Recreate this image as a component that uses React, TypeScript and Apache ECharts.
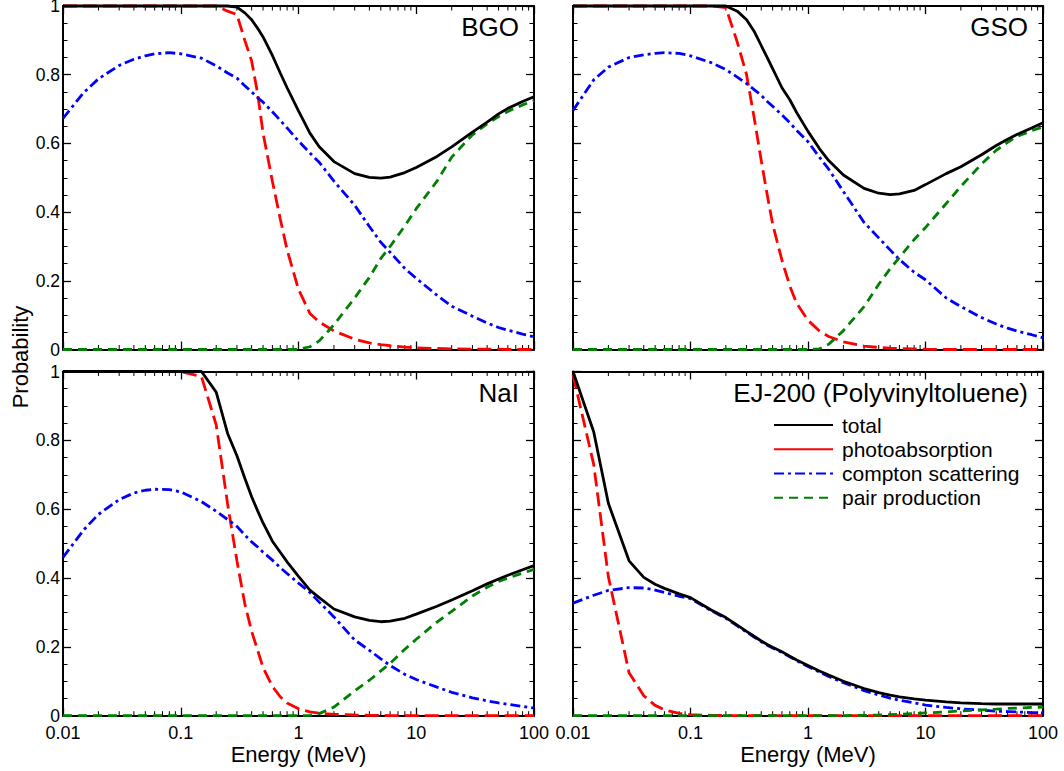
import React, { useEffect, useRef } from "react";
import * as echarts from "echarts";

// ---------------- data ----------------
const ENERGY = [0.01, 0.015, 0.02, 0.03, 0.04, 0.05, 0.06, 0.08, 0.1, 0.15, 0.2, 0.25, 0.3, 0.35, 0.4, 0.45, 0.5, 0.6, 0.7, 0.8, 1, 1.25, 1.5, 2, 3, 4, 5, 6, 8, 10, 15, 20, 30, 40, 50, 60, 80, 100];

const BGO_TOTAL = [1, 1, 1, 1, 1, 1, 1, 1, 1, 1, 1, 1.0, 0.997, 0.98, 0.96, 0.935, 0.91, 0.856, 0.805, 0.762, 0.695, 0.63, 0.59, 0.547, 0.512, 0.501, 0.499, 0.502, 0.515, 0.53, 0.562, 0.59, 0.633, 0.662, 0.686, 0.702, 0.722, 0.736];
const BGO_PHOTO = [1, 1, 1, 1, 1, 1, 1, 1, 1, 1, 1, 0.985, 0.975, 0.9, 0.84, 0.745, 0.63, 0.49, 0.38, 0.29, 0.175, 0.105, 0.08, 0.054, 0.03, 0.019, 0.014, 0.011, 0.007, 0.005, 0.003, 0.002, 0.001, 0.001, 0.001, 0, 0, 0];
const BGO_COMPTON = [0.673, 0.748, 0.788, 0.827, 0.845, 0.855, 0.861, 0.864, 0.861, 0.848, 0.826, 0.805, 0.79, 0.768, 0.75, 0.733, 0.72, 0.692, 0.667, 0.645, 0.607, 0.572, 0.545, 0.49, 0.42, 0.358, 0.312, 0.283, 0.236, 0.207, 0.158, 0.126, 0.097, 0.077, 0.064, 0.056, 0.045, 0.037];
const BGO_PAIR = [0, 0, 0, 0, 0, 0, 0, 0, 0, 0, 0, 0, 0, 0, 0, 0, 0, 0, 0, 0, 0, 0.008, 0.025, 0.072, 0.15, 0.21, 0.265, 0.3, 0.36, 0.41, 0.49, 0.56, 0.625, 0.657, 0.678, 0.693, 0.712, 0.725];

const GSO_TOTAL = [1, 1, 1, 1, 1, 1, 1, 1, 1, 1, 1, 0.985, 0.96, 0.925, 0.885, 0.85, 0.818, 0.762, 0.727, 0.69, 0.635, 0.585, 0.55, 0.508, 0.469, 0.455, 0.451, 0.453, 0.463, 0.48, 0.512, 0.532, 0.567, 0.594, 0.612, 0.626, 0.645, 0.66];
const GSO_PHOTO = [1, 1, 1, 1, 1, 1, 1, 1, 1, 1, 0.995, 0.895, 0.8, 0.67, 0.55, 0.45, 0.365, 0.26, 0.185, 0.135, 0.085, 0.054, 0.038, 0.022, 0.01, 0.006, 0.004, 0.003, 0.002, 0.001, 0, 0, 0, 0, 0, 0, 0, 0];
const GSO_COMPTON = [0.696, 0.785, 0.822, 0.85, 0.858, 0.862, 0.864, 0.862, 0.855, 0.835, 0.815, 0.793, 0.774, 0.756, 0.74, 0.722, 0.708, 0.683, 0.66, 0.638, 0.605, 0.56, 0.525, 0.46, 0.37, 0.325, 0.29, 0.262, 0.225, 0.203, 0.15, 0.125, 0.093, 0.074, 0.062, 0.054, 0.043, 0.034];
const GSO_PAIR = [0, 0, 0, 0, 0, 0, 0, 0, 0, 0, 0, 0, 0, 0, 0, 0, 0, 0, 0, 0, 0, 0.002, 0.015, 0.055, 0.125, 0.19, 0.235, 0.268, 0.32, 0.355, 0.425, 0.475, 0.54, 0.58, 0.603, 0.62, 0.637, 0.648];

const NAI_TOTAL = [1, 1, 1, 1, 1, 1, 1, 1, 1, 1, 0.94, 0.82, 0.755, 0.69, 0.636, 0.595, 0.56, 0.507, 0.475, 0.447, 0.405, 0.365, 0.343, 0.31, 0.287, 0.277, 0.273, 0.275, 0.283, 0.295, 0.318, 0.336, 0.363, 0.383, 0.397, 0.408, 0.424, 0.436];
const NAI_PHOTO = [1, 1, 1, 1, 1, 1, 1, 1, 1, 0.985, 0.845, 0.615, 0.45, 0.325, 0.245, 0.19, 0.14, 0.085, 0.055, 0.037, 0.02, 0.011, 0.007, 0.004, 0.002, 0.001, 0.001, 0, 0, 0, 0, 0, 0, 0, 0, 0, 0, 0];
const NAI_COMPTON = [0.46, 0.54, 0.585, 0.628, 0.647, 0.655, 0.658, 0.657, 0.65, 0.622, 0.594, 0.57, 0.55, 0.525, 0.505, 0.49, 0.475, 0.452, 0.43, 0.413, 0.385, 0.358, 0.33, 0.287, 0.22, 0.19, 0.165, 0.146, 0.12, 0.105, 0.083, 0.068, 0.052, 0.043, 0.037, 0.033, 0.027, 0.022];
const NAI_PAIR = [0, 0, 0, 0, 0, 0, 0, 0, 0, 0, 0, 0, 0, 0, 0, 0, 0, 0, 0, 0, 0, 0.001, 0.006, 0.025, 0.072, 0.103, 0.13, 0.152, 0.193, 0.222, 0.272, 0.303, 0.348, 0.373, 0.39, 0.4, 0.414, 0.425];

const EJ_TOTAL = [1.0, 0.825, 0.617, 0.45, 0.402, 0.382, 0.37, 0.354, 0.343, 0.307, 0.285, 0.263, 0.245, 0.23, 0.217, 0.207, 0.199, 0.186, 0.173, 0.162, 0.146, 0.13, 0.118, 0.1, 0.079, 0.067, 0.06, 0.055, 0.049, 0.045, 0.04, 0.037, 0.035, 0.034, 0.034, 0.034, 0.034, 0.034];
const EJ_PHOTO = [0.99, 0.73, 0.404, 0.125, 0.058, 0.03, 0.017, 0.007, 0.003, 0.001, 0.0005, 0, 0, 0, 0, 0, 0, 0, 0, 0, 0, 0, 0, 0, 0, 0, 0, 0, 0, 0, 0, 0, 0, 0, 0, 0, 0, 0];
const EJ_COMPTON = [0.327, 0.35, 0.364, 0.372, 0.371, 0.365, 0.358, 0.347, 0.34, 0.305, 0.283, 0.261, 0.243, 0.228, 0.215, 0.205, 0.197, 0.184, 0.171, 0.16, 0.143, 0.127, 0.114, 0.096, 0.073, 0.06, 0.051, 0.045, 0.037, 0.031, 0.024, 0.02, 0.016, 0.013, 0.012, 0.011, 0.009, 0.008];
const EJ_PAIR = [0, 0, 0, 0, 0, 0, 0, 0, 0, 0, 0, 0, 0, 0, 0, 0, 0, 0, 0, 0, 0, 0, 0, 0.0003, 0.001, 0.002, 0.003, 0.004, 0.006, 0.008, 0.011, 0.014, 0.017, 0.019, 0.021, 0.022, 0.024, 0.025];

const X_TICKS = [0.01, 0.1, 1, 10, 100];
const X_TICK_LABELS = ["0.01", "0.1", "1", "10", "100"];
const X_MINOR_TICKS = [0.02, 0.03, 0.04, 0.05, 0.06, 0.07, 0.08, 0.09, 0.2, 0.3, 0.4, 0.5, 0.6, 0.7, 0.8, 0.9, 2, 3, 4, 5, 6, 7, 8, 9, 20, 30, 40, 50, 60, 70, 80, 90];

const SERIES_NAMES = ["total", "photoabsorption", "compton scattering", "pair production"];
const PANEL_TITLES = ["BGO", "GSO", "NaI", "EJ-200 (Polyvinyltoluene)"];
const X_NAME = "Energy (MeV)";
const Y_NAME = "Probability";

const PANELS = [
  { title: PANEL_TITLES[0], values: [BGO_TOTAL, BGO_PHOTO, BGO_COMPTON, BGO_PAIR] },
  { title: PANEL_TITLES[1], values: [GSO_TOTAL, GSO_PHOTO, GSO_COMPTON, GSO_PAIR] },
  { title: PANEL_TITLES[2], values: [NAI_TOTAL, NAI_PHOTO, NAI_COMPTON, NAI_PAIR] },
  { title: PANEL_TITLES[3], values: [EJ_TOTAL, EJ_PHOTO, EJ_COMPTON, EJ_PAIR] },
];

// ---------------- layout & style ----------------
const FONT = "'Liberation Sans', Arial, Helvetica, sans-serif";
const GRIDS = [
  { left: 63, top: 6, width: 471, height: 343.5 },
  { left: 573, top: 6, width: 470, height: 343.5 },
  { left: 63, top: 371.5, width: 471, height: 344.2 },
  { left: 573, top: 371.5, width: 470, height: 344.2 },
];
const TITLE_POS = [
  { x: 519, y: 27 },
  { x: 1028, y: 27 },
  { x: 519, y: 393 },
  { x: 1028, y: 393 },
];
const LINE_STYLES = [
  { color: "#000000", width: 2.8, type: "solid" as any },
  { color: "#ff0000", width: 2.8, type: [14, 6] as any },
  { color: "#0000ff", width: 2.8, type: [10, 4, 3, 4] as any },
  { color: "#008000", width: 2.8, type: [9, 6] as any },
];
// draw order: photo, compton, pair, total (total on top)
const DRAW_ORDER = [1, 2, 3, 0];

function xLabel(v: number): string {
  const i = X_TICKS.findIndex((t) => Math.abs(Math.log10(t) - Math.log10(v)) < 1e-6);
  return i >= 0 ? X_TICK_LABELS[i] : "";
}

function buildOption(): any {
  const grid: any[] = [];
  const xAxis: any[] = [];
  const yAxis: any[] = [];
  const series: any[] = [];
  const graphic: any[] = [];

  const axisLine = { show: true, onZero: false, lineStyle: { color: "#000", width: 2 } };
  const axisTick = { show: true, inside: true, length: 8, lineStyle: { color: "#000", width: 1.3 } };

  PANELS.forEach((panel, i) => {
    const g = GRIDS[i];
    grid.push({ ...g, containLabel: false, outerBoundsMode: "none" });
    const isBottom = i >= 2;
    const isLeft = i % 2 === 0;
    const xBase = {
      type: "log",
      logBase: 10,
      gridIndex: i,
      min: 0.01,
      max: 100,
      axisLine,
      axisTick,
      splitLine: { show: false },
      minorTick: { show: false },
      minorSplitLine: { show: false },
    };
    xAxis.push({
      ...xBase,
      position: "bottom",
      axisLabel: {
        show: isBottom,
        formatter: xLabel,
        fontSize: 18,
        color: "#000",
        margin: 9,
        lineHeight: 16,
        fontFamily: FONT,
        showMinLabel: true,
        showMaxLabel: true,
      },
      name: isBottom ? X_NAME : "",
      nameLocation: "middle",
      nameGap: 28,
      nameTextStyle: { fontSize: 22, color: "#000", fontFamily: FONT },
    });
    xAxis.push({ ...xBase, position: "top", axisLabel: { show: false } });
    const yBase = {
      type: "value",
      gridIndex: i,
      min: 0,
      max: 1,
      interval: 0.2,
      axisLine,
      axisTick,
      minorTick: { show: true, splitNumber: 4, length: 4.5, lineStyle: { color: "#000", width: 1 } },
      splitLine: { show: false },
      minorSplitLine: { show: false },
    };
    yAxis.push({
      ...yBase,
      position: "left",
      axisLabel: {
        show: isLeft,
        fontSize: 17.5,
        lineHeight: 12,
        color: "#000",
        margin: 3,
        fontFamily: FONT,
        showMinLabel: true,
        showMaxLabel: true,
      },
    });
    yAxis.push({ ...yBase, position: "right", axisLabel: { show: false } });

    // minor ticks of the log x axes (bottom and top), placed through the axis scale
    series.push({
      type: "custom",
      xAxisIndex: 2 * i,
      yAxisIndex: 2 * i,
      silent: true,
      clip: false,
      z: 1,
      data: X_MINOR_TICKS.map((v) => [v, 0]),
      renderItem: (_p: any, api: any) => {
        const e = api.value(0);
        const b = api.coord([e, 0]);
        const t = api.coord([e, 1]);
        return {
          type: "group",
          children: [
            { type: "line", shape: { x1: b[0], y1: b[1], x2: b[0], y2: b[1] - 4.5 }, style: { stroke: "#000", lineWidth: 1 } },
            { type: "line", shape: { x1: t[0], y1: t[1], x2: t[0], y2: t[1] + 4.5 }, style: { stroke: "#000", lineWidth: 1 } },
          ],
        };
      },
    });

    DRAW_ORDER.forEach((k) => {
      const vals = panel.values[k];
      series.push({
        type: "line",
        name: SERIES_NAMES[k],
        xAxisIndex: 2 * i,
        yAxisIndex: 2 * i,
        data: ENERGY.map((e, j) => [e, vals[j]]),
        symbol: "none",
        showSymbol: false,
        clip: false,
        z: 3,
        lineStyle: { ...LINE_STYLES[k] },
        itemStyle: { color: LINE_STYLES[k].color },
        emphasis: { disabled: true },
      });
    });

    graphic.push({
      type: "text",
      x: TITLE_POS[i].x,
      y: TITLE_POS[i].y,
      silent: true,
      style: {
        text: panel.title,
        fill: "#000",
        fontSize: 26,
        fontFamily: FONT,
        align: "right",
        verticalAlign: "middle",
      },
    });
  });

  graphic.push({
    type: "text",
    x: 20,
    y: 357,
    rotation: Math.PI / 2,
    silent: true,
    style: {
      text: Y_NAME,
      fill: "#000",
      fontSize: 22,
      fontFamily: FONT,
      align: "center",
      verticalAlign: "middle",
    },
  });

  return {
    animation: false,
    backgroundColor: "#ffffff",
    textStyle: { fontFamily: FONT },
    grid,
    xAxis,
    yAxis,
    series,
    graphic,
    legend: {
      orient: "vertical",
      left: 773,
      top: 413,
      itemWidth: 59,
      itemHeight: 14,
      itemGap: 0,
      selectedMode: false,
      padding: 0,
      itemStyle: { opacity: 0 },
      textStyle: { fontSize: 21, color: "#000", fontFamily: FONT, lineHeight: 24.2, padding: [0, 0, 0, 4] },
      data: [
        { name: SERIES_NAMES[0], itemStyle: { opacity: 0 } },
        { name: SERIES_NAMES[1], lineStyle: { type: "solid" }, itemStyle: { opacity: 0 } },
        { name: SERIES_NAMES[2], itemStyle: { opacity: 0 } },
        { name: SERIES_NAMES[3], itemStyle: { opacity: 0 } },
      ],
    },
  };
}

export default function App() {
  const ref = useRef<HTMLDivElement>(null);
  useEffect(() => {
    if (!ref.current) return;
    const chart = echarts.init(ref.current, undefined, { renderer: "svg" });
    chart.setOption(buildOption());
    return () => chart.dispose();
  }, []);
  return (
    <div
      ref={ref}
      style={{ position: "absolute", left: 0, top: 0, width: 1064, height: 771, background: "#fff" }}
    />
  );
}
